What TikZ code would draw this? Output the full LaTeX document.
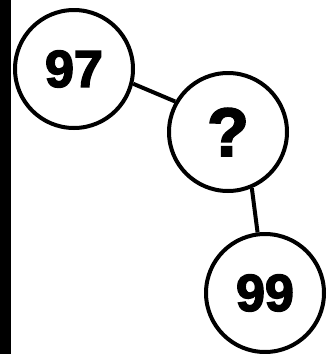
\documentclass[tikz,border=0pt]{standalone}
\usepackage{fontspec}
\setmainfont{Liberation Sans}
\newfontfamily\heavyfont{Liberation Sans}[BoldFeatures={FakeBold=3}]
\usepackage{tikz}

\tikzset{
    numnode/.style={circle, draw, line width=4pt, minimum size=118pt, inner sep=0pt,
        font=\heavyfont\bfseries\fontsize{52}{52}\selectfont},
    link/.style={line width=4pt}
}

\begin{document}
\begin{tikzpicture}[x=1pt, y=-1pt]
    \useasboundingbox (0,0) rectangle (335,354);
    % strip on the left edge
    \fill[black] (0,0) rectangle (11,354);
    % the three numbers
    \node[numnode] (a) at (74,69) {97};
    \node[numnode, font=\heavyfont\bfseries\fontsize{68}{68}\selectfont] (q) at (228,132) {?};
    \node[numnode] (b) at (265,293) {99};
    \draw[link] (a.-14) -- (q.150);
    \draw[link] (q.-67) -- (b.97);
\end{tikzpicture}
\end{document}
